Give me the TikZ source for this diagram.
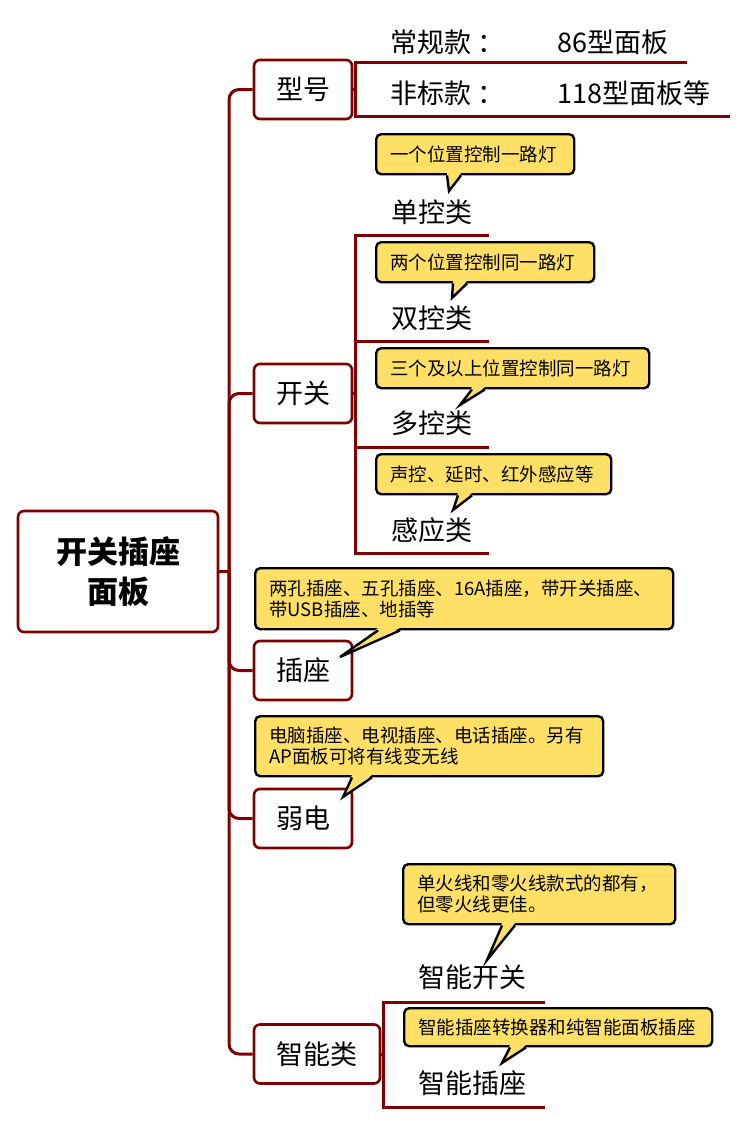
\documentclass[tikz,border=0pt]{standalone}
\usepackage{fontspec}
\setmainfont{Noto Sans CJK SC}
\usetikzlibrary{positioning}
\definecolor{maroon}{RGB}{128,0,0}
\definecolor{note}{RGB}{255,224,102}

\begin{document}
\begin{tikzpicture}[x=1pt,y=-1pt,branch/.style={draw=maroon,line width=3pt},topic/.style={shape=rectangle,draw=maroon,line width=2.6pt,rounded corners=6pt,fill=white,minimum width=98pt,minimum height=59pt,font=\fontsize{27}{30}\selectfont},root/.style={topic,minimum width=200pt,minimum height=121pt,align=center,font=\fontsize{31}{40}\selectfont\bfseries},item/.style={anchor=west,inner sep=0pt,font=\fontsize{27}{30}\selectfont},tip/.style={shape=rectangle,draw=black,line width=2.4pt,rounded corners=5pt,fill=note,anchor=north west,inner xsep=14pt,align=left,minimum height=40pt,font=\fontsize{18.5}{21}\selectfont}]
\def\tx{229}
\useasboundingbox (0,0) rectangle (747,1124);

% main branches
\node[root] (root) at (118,571.5) {开关插座\\面板};
\node[topic] (xh) at (303,89.5) {型号};
\node[topic] (kg) at (303,393.5) {开关};
\node[topic] (cz) at (303,670.5) {插座};
\node[topic] (rd) at (303,818.5) {弱电};
\node[topic,minimum width=126pt] (zn) at (317,1054) {智能类};

\draw[branch] (root.east) -- (\tx,571.5);
\foreach \n in {xh,kg,cz,rd,zn}
  \draw[branch,rounded corners=10pt] (\n.west) -| (\tx,571.5);

% 型号
\coordinate (xhb) at (355,89.5);
\draw[branch] (xh.east) -- (xhb);
\draw[branch] (687,63) -- (355,63) -- (355,116) -- (730,116);
\node[item] (cg) at (390,42) {常规款\hspace{6pt}：};
\node[item] (cgv) at (557,42) {86型面板};
\node[item] (fb) at (390,93) {非标款\hspace{6pt}：};
\node[item] (fbv) at (557,93) {118型面板等};

% 开关
\coordinate (kgb) at (355,393.5);
\draw[branch] (kg.east) -- (kgb);
\draw[branch] (489,235) -- (355,235) -- (355,553) -- (489,553);
\draw[branch] (355,341) -- (489,341);
\draw[branch] (355,447) -- (489,447);
\node[item] (dk) at (391,212) {单控类};
\node[item] (sk) at (391,318) {双控类};
\node[item] (mk) at (391,423) {多控类};
\node[item] (gy) at (391,530) {感应类};

% 智能类
\coordinate (znb) at (383,1054);
\draw[branch] (zn.east) -- (znb);
\draw[branch] (545,1002) -- (383,1002) -- (383,1107) -- (545,1107);
\node[item] (zk) at (418,977) {智能开关};
\node[item] (zc) at (418,1083) {智能插座};

% notes
\node[tip,text width=170pt] (c1) at (375,133) {一个位置控制一路灯};
\node[tip,text width=190pt] (c2) at (375,241) {两个位置控制同一路灯};
\node[tip,text width=245pt] (c3) at (375,347) {三个及以上位置控制同一路灯};
\node[tip,text width=207pt] (c4) at (375,453) {声控、延时、红外感应等};
\node[tip,text width=390pt,minimum height=61pt] (c5) at (254,567) {两孔插座、五孔插座、16A插座，带开关插座、\\带USB插座、地插等};
\node[tip,text width=320pt,minimum height=60pt] (c6) at (254,715) {电脑插座、电视插座、电话插座。另有\\AP面板可将有线变无线};
\node[tip,text width=244pt,minimum height=60pt] (c7) at (402,863) {单火线和零火线款式的都有，\\但零火线更佳。};
\node[tip,text width=280pt,minimum height=38pt] (c8) at (403,1007) {智能插座转换器和纯智能面板插座};

\coordinate (t1) at (449,191);
\coordinate (t2) at (452,298);
\coordinate (t3) at (460,405);
\coordinate (t4) at (453,510);
\coordinate (t5) at (340,657);
\coordinate (t6) at (343,797);
\coordinate (t7) at (487,960);
\coordinate (t8) at (502,1063);

\foreach \c/\a/\b/\t in {c1/72/86/t1,c2/78/92/t2,c3/97/110/t3,c4/83/97/t4,c5/124/146/t5,c6/98/118/t6,c7/100/113/t7,c8/107/123/t8}{
  \fill[note] ([xshift=\a pt,yshift=2.5pt]\c.south west) -- (\t) -- ([xshift=\b pt,yshift=2.5pt]\c.south west) -- cycle;
  \draw[line width=2.4pt] ([xshift=\a pt]\c.south west) -- (\t) -- ([xshift=\b pt]\c.south west);
}
\end{tikzpicture}
\end{document}
